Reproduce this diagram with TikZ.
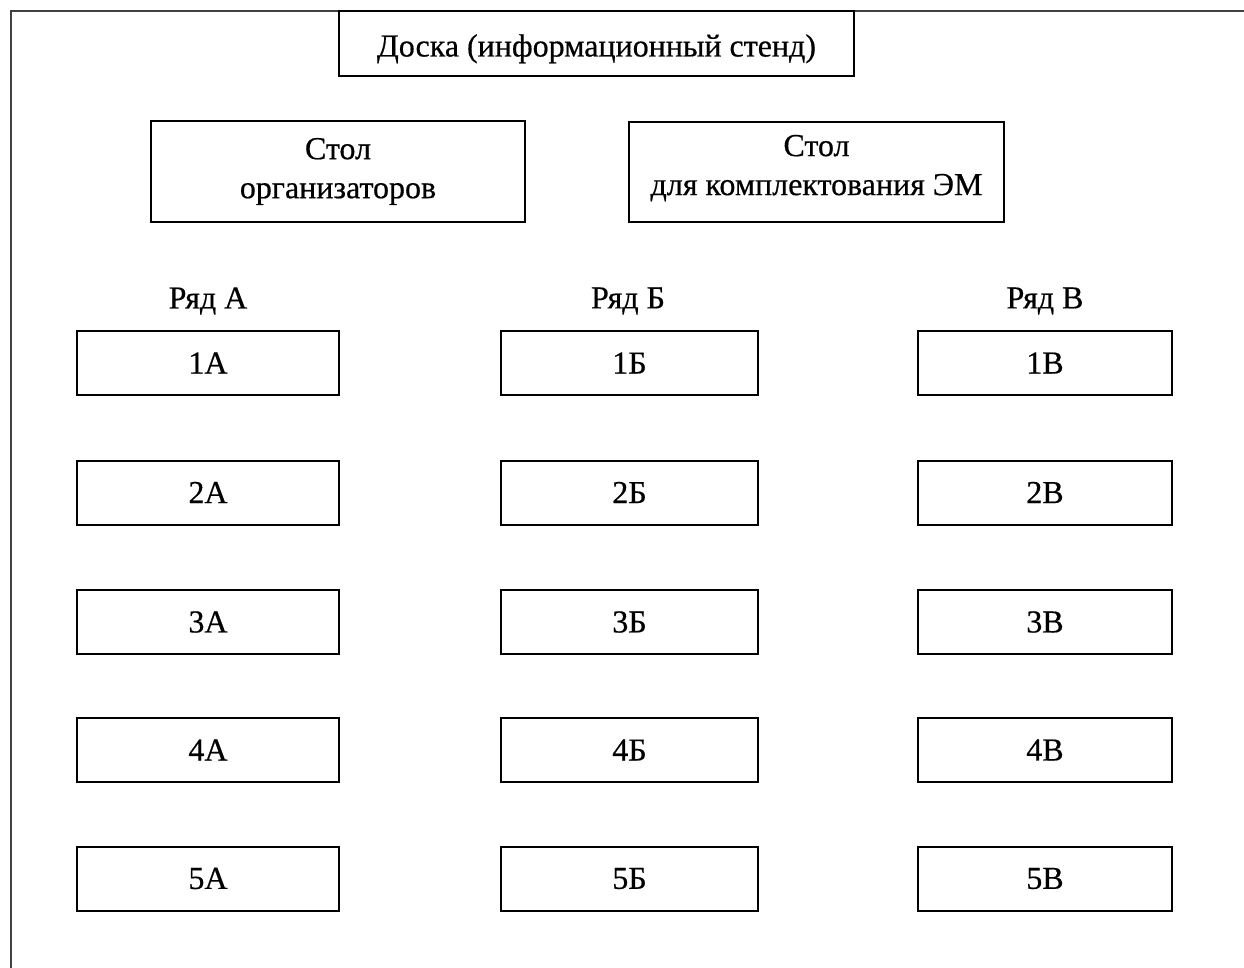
\documentclass[tikz,border=0pt]{standalone}
\usepackage{fontspec}
\setmainfont{Liberation Serif}[FakeBold=0.5]
\begin{document}
\begin{tikzpicture}[x=1pt,y=-1pt,
  box/.style={draw=black,line width=2pt,inner sep=0pt,font=\fontsize{32}{39}\selectfont,align=center},
  lbl/.style={inner sep=0pt,font=\fontsize{32}{39}\selectfont},
  frame/.style={draw=black!75,line width=2.2pt}]
\useasboundingbox (0,0) rectangle (1244,968);
\coordinate (fb) at (11,970);
\coordinate (fc) at (11,11);
\coordinate (fr) at (1246,11);
\draw[frame] (fb) -- (fc) -- (fr);
\node[box,minimum width=515,minimum height=65,text height=28pt,text depth=2pt] (board) at (596.5,43.5) {Доска (информационный стенд)};
\node[box,minimum width=374,minimum height=101] (org) at (338,171.5) {Стол\\организаторов};
\node[box,minimum width=375,minimum height=100] (em) at (816.5,172) {Стол\\для комплектования ЭМ\\[-25pt]\mbox{}};
\node[lbl] (la) at (208,301) {Ряд А};
\node[lbl] (lb) at (628,301) {Ряд Б};
\node[lbl] (lc) at (1045,301) {Ряд В};
\foreach \r/\y in {1/363,2/492.5,3/622,4/750,5/878.5}{
  \node[box,minimum width=262,minimum height=64] (a\r) at (208,\y) {\r А};
  \node[box,minimum width=257,minimum height=64] (b\r) at (629.5,\y) {\r Б};
  \node[box,minimum width=254,minimum height=64] (c\r) at (1045,\y) {\r В};
}
\end{tikzpicture}
\end{document}
